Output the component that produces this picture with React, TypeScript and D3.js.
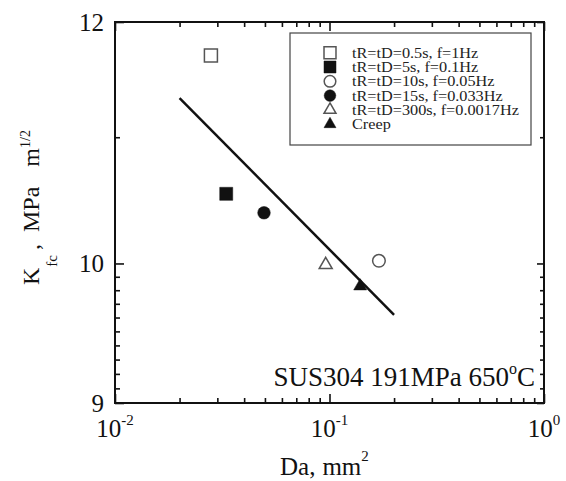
import React, { useEffect, useRef } from 'react';
import * as d3 from 'd3';

// series data
const seriesLabels = [
  'tR=tD=0.5s, f=1Hz',
  'tR=tD=5s, f=0.1Hz',
  'tR=tD=10s, f=0.05Hz',
  'tR=tD=15s, f=0.033Hz',
  'tR=tD=300s, f=0.0017Hz',
  'Creep',
];
const seriesDa = [0.028, 0.033, 0.17, 0.0495, 0.096, 0.139];
const seriesKfc = [11.7, 10.54, 10.02, 10.39, 9.99, 9.83];

// fitted line
const fitDa = [0.02, 0.2];
const fitKfc = [11.33, 9.62];

// ticks
const xMajorTicks = [0.01, 0.1, 1];
const xMajorExponents = ['-2', '-1', '0'];
const xMinorTicks = [0.02, 0.03, 0.04, 0.05, 0.06, 0.07, 0.08, 0.09, 0.2, 0.3, 0.4, 0.5, 0.6, 0.7, 0.8, 0.9];
const yMajorTicks = [9, 10, 12];
const yMinorTicks = [9.1, 9.2, 9.3, 9.4, 9.5, 9.6, 9.7, 9.8, 9.9, 11];

const markerShapes = [d3.symbolSquare, d3.symbolSquare, d3.symbolCircle, d3.symbolCircle, d3.symbolTriangle, d3.symbolTriangle];
const markerFilled = [false, true, false, true, false, true];
const markerSizes = [169, 169, 125, 125, 73, 73];

const FONT = 'Liberation Serif, DejaVu Serif, serif';

const App = () => {
  const ref = useRef(null);

  useEffect(() => {
    d3.select(ref.current).selectAll('*').remove();

    const width = 566;
    const height = 481;
    const plot = { left: 115, right: 544, top: 22, bottom: 403 };

    const x = d3.scaleLog().domain([0.01, 1]).range([plot.left, plot.right]);
    const y = d3.scaleLog().domain([9, 12]).range([plot.bottom, plot.top]);

    const svg = d3.select(ref.current)
      .append('svg')
      .attr('width', width)
      .attr('height', height)
      .style('position', 'absolute')
      .style('left', '0px')
      .style('top', '0px')
      .style('background', '#fff');

    // inward ticks on all four sides
    const addAxis = (axis, transform) => {
      svg.append('g')
        .attr('transform', transform)
        .call(axis)
        .call(g => g.select('.domain').remove())
        .call(g => g.selectAll('line').attr('stroke', '#111').attr('stroke-width', 1.6));
    };
    const blank = () => '';
    addAxis(d3.axisBottom(x).tickValues(xMajorTicks).tickSize(-9).tickFormat(blank), `translate(0,${plot.bottom})`);
    addAxis(d3.axisBottom(x).tickValues(xMinorTicks).tickSize(-5).tickFormat(blank), `translate(0,${plot.bottom})`);
    addAxis(d3.axisTop(x).tickValues(xMajorTicks).tickSize(-9).tickFormat(blank), `translate(0,${plot.top})`);
    addAxis(d3.axisTop(x).tickValues(xMinorTicks).tickSize(-5).tickFormat(blank), `translate(0,${plot.top})`);
    addAxis(d3.axisLeft(y).tickValues(yMajorTicks).tickSize(-9).tickFormat(blank), `translate(${plot.left},0)`);
    addAxis(d3.axisLeft(y).tickValues(yMinorTicks).tickSize(-5).tickFormat(blank), `translate(${plot.left},0)`);
    addAxis(d3.axisRight(y).tickValues(yMajorTicks).tickSize(-7).tickFormat(blank), `translate(${plot.right},0)`);
    addAxis(d3.axisRight(y).tickValues(yMinorTicks).tickSize(-4).tickFormat(blank), `translate(${plot.right},0)`);

    // frame
    svg.append('rect')
      .attr('x', plot.left)
      .attr('y', plot.top)
      .attr('width', plot.right - plot.left)
      .attr('height', plot.bottom - plot.top)
      .attr('fill', 'none')
      .attr('stroke', '#111')
      .attr('stroke-width', 2);

    // x tick labels 10^n
    const xl = svg.selectAll('.xlab')
      .data(xMajorTicks)
      .enter().append('text')
      .attr('x', d => x(d))
      .attr('y', 437)
      .attr('text-anchor', 'middle')
      .attr('font-family', FONT)
      .attr('font-size', 25)
      .attr('fill', '#111');
    xl.append('tspan').text('10');
    xl.append('tspan')
      .attr('font-size', 15)
      .attr('dy', -12)
      .text((d, i) => xMajorExponents[i]);

    // y tick labels
    svg.selectAll('.ylab')
      .data(yMajorTicks)
      .enter().append('text')
      .attr('x', 104)
      .attr('y', d => y(d))
      .attr('dy', '0.35em')
      .attr('text-anchor', 'end')
      .attr('font-family', FONT)
      .attr('font-size', 25)
      .attr('fill', '#111')
      .text(d => d);

    // axis titles
    const xt = svg.append('text')
      .attr('x', 280)
      .attr('y', 475)
      .attr('font-family', FONT)
      .attr('font-size', 25)
      .attr('fill', '#111');
    xt.append('tspan').text('Da,');
    xt.append('tspan').attr('dx', 7).text('mm');
    xt.append('tspan').attr('font-size', 15).attr('dy', -14).text('2');

    const yt = svg.append('text')
      .attr('transform', 'translate(39,285) rotate(-90)')
      .attr('font-family', FONT)
      .attr('font-size', 24)
      .attr('fill', '#111');
    yt.append('tspan').text('K');
    yt.append('tspan').attr('font-size', 15).attr('dx', 1).attr('dy', 18).text('fc');
    yt.append('tspan').attr('dx', 5).attr('dy', -18).text(',');
    yt.append('tspan').attr('dx', 12).text('MPa');
    yt.append('tspan').attr('dx', 20).text('m');
    yt.append('tspan').attr('font-size', 14).attr('dy', -9).text('1/2');

    // annotation
    const note = svg.append('text')
      .attr('x', 535)
      .attr('y', 386)
      .attr('text-anchor', 'end')
      .attr('font-family', FONT)
      .attr('font-size', 27)
      .attr('fill', '#111');
    note.append('tspan').text('SUS304 191MPa 650');
    note.append('tspan').attr('font-size', 16).attr('dy', -12).text('o');
    note.append('tspan').attr('dy', 12).text('C');

    // fitted line
    svg.append('path')
      .datum(fitDa.map((d, i) => [d, fitKfc[i]]))
      .attr('d', d3.line().x(d => x(d[0])).y(d => y(d[1])))
      .attr('fill', 'none')
      .attr('stroke', '#111')
      .attr('stroke-width', 2.5);

    // markers
    const sym = d3.symbol();
    svg.selectAll('.pt')
      .data(seriesDa)
      .enter().append('path')
      .attr('transform', (d, i) => `translate(${x(d)},${y(seriesKfc[i])})`)
      .attr('d', (d, i) => sym.type(markerShapes[i]).size(markerSizes[i])())
      .attr('fill', (d, i) => (markerFilled[i] ? '#111' : '#fff'))
      .attr('stroke', (d, i) => (markerFilled[i] ? '#111' : '#555'))
      .attr('stroke-width', (d, i) => (markerFilled[i] ? 0.5 : 1.5));

    // legend
    const lg = { x: 290, y: 33, w: 241, h: 112, rowTop: 52.7, rowStep: 14.3 };
    svg.append('rect')
      .attr('x', lg.x)
      .attr('y', lg.y)
      .attr('width', lg.w)
      .attr('height', lg.h)
      .attr('fill', '#fff')
      .attr('stroke', '#444')
      .attr('stroke-width', 1.2);

    const rows = svg.selectAll('.lg')
      .data(seriesLabels)
      .enter().append('g')
      .attr('transform', (d, i) => `translate(0,${lg.rowTop + i * lg.rowStep})`);
    rows.append('path')
      .attr('transform', 'translate(330,0)')
      .attr('d', (d, i) => sym.type(markerShapes[i]).size(markerSizes[i] * 0.85)())
      .attr('fill', (d, i) => (markerFilled[i] ? '#111' : '#fff'))
      .attr('stroke', (d, i) => (markerFilled[i] ? '#111' : '#555'))
      .attr('stroke-width', (d, i) => (markerFilled[i] ? 0.5 : 1.5));
    // the scanned legend type is a little wider than plain Times, so stretch it
    rows.append('text')
      .attr('x', 352)
      .attr('dy', '0.35em')
      .attr('font-family', FONT)
      .attr('font-size', 14.5)
      .attr('fill', '#222')
      .text(d => d)
      .each(function () {
        const w = this.getComputedTextLength();
        d3.select(this)
          .attr('textLength', w * 1.12)
          .attr('lengthAdjust', 'spacingAndGlyphs');
      });
  }, []);

  return <div ref={ref}></div>;
};

export default App;
